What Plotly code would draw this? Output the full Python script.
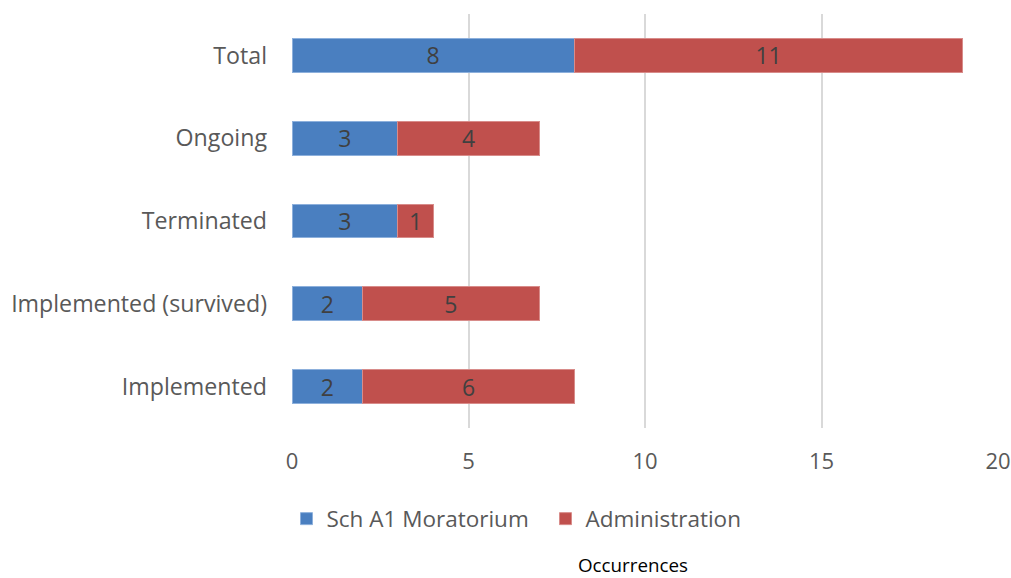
import plotly.graph_objects as go

categories = ["Implemented", "Implemented (survived)", "Terminated", "Ongoing", "Total"]
moratorium = [2, 2, 3, 3, 8]
administration = [6, 5, 1, 4, 11]
x_ticks = [0, 5, 10, 15, 20]

BLUE = "#4A7FC0"
RED = "#C0504D"
FONT = "Open Sans"

W, H = 1011, 578

fig = go.Figure()
fig.add_trace(go.Bar(
    y=categories, x=moratorium, orientation="h", name="Sch A1 Moratorium",
    marker=dict(color=BLUE, line=dict(color="#8DB0DC", width=1)),
    text=moratorium, textposition="inside", insidetextanchor="middle", textangle=0,
    constraintext="none",
    textfont=dict(family=FONT, size=23, color="#404040"),
))
fig.add_trace(go.Bar(
    y=categories, x=administration, orientation="h", name="Administration",
    marker=dict(color=RED, line=dict(color="#D88C8A", width=1)),
    text=administration, textposition="inside", insidetextanchor="middle", textangle=0,
    constraintext="none",
    textfont=dict(family=FONT, size=23, color="#404040"),
))

fig.update_layout(
    barmode="stack",
    bargap=0.59,
    width=W, height=H,
    margin=dict(l=292, r=13, t=14, b=150, autoexpand=False),
    plot_bgcolor="white", paper_bgcolor="white",
    font=dict(family=FONT, size=22, color="#595959"),
    xaxis=dict(range=[0, 20], tickvals=x_ticks, showgrid=True, gridcolor="#D9D9D9",
               gridwidth=1.5, zeroline=False, showline=False, ticks="",
               automargin=False, ticklabelstandoff=18,
               tickfont=dict(size=22, color="#595959")),
    yaxis=dict(showgrid=False, showline=False, ticks="", automargin=False,
               ticklabelstandoff=24,
               tickfont=dict(size=23.2, color="#595959")),
    legend=dict(orientation="h", xref="container", x=286.5 / W, xanchor="left",
                yref="container", y=1 - 519 / H, yanchor="middle",
                font=dict(size=22.5, color="#595959"), itemwidth=30, traceorder="normal",
                entrywidth=214),
    showlegend=True,
)
fig.add_annotation(text="Occurrences", xref="paper", yref="paper", x=(633 - 292) / 706,
                   y=(428 - 565) / 414, borderpad=0,
                   xanchor="center", yanchor="middle", showarrow=False,
                   font=dict(family=FONT, size=18.8, color="#000000"))

fig.write_html("out.html", config={"displayModeBar": False},
               post_script="document.body.style.margin='0';document.body.style.overflow='hidden';")
